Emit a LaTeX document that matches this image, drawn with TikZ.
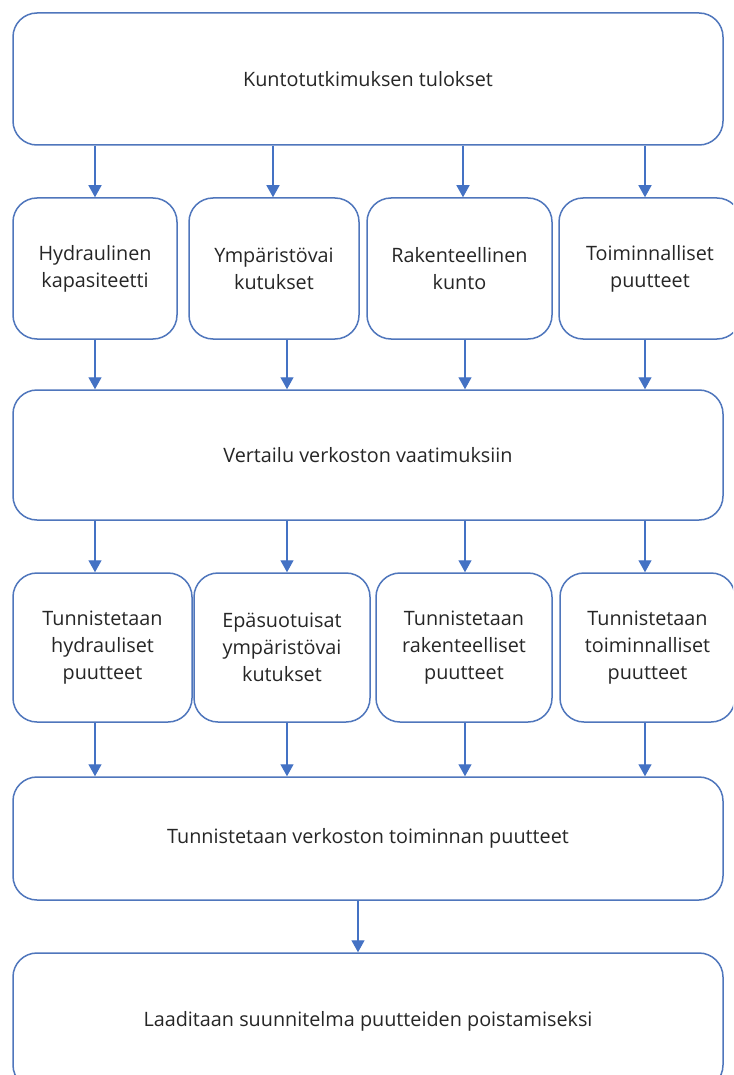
\documentclass[tikz,border=0pt]{standalone}
\usepackage{fontspec}
\setmainfont{Open Sans}
\usetikzlibrary{arrows.meta,calc}
\definecolor{boxblue}{HTML}{4F76BC}
\definecolor{arrblue}{HTML}{4472C4}
\definecolor{txt}{HTML}{262626}
\tikzset{
  box/.style={draw=boxblue, line width=1.5pt, rounded corners=24pt, fill=white,
    inner sep=0pt, align=center, text=txt,
    font=\fontsize{19.8pt}{27pt}\selectfont},
  arr/.style={draw=arrblue, line width=1.4pt, -{Triangle[length=12pt,width=13pt]}},
}
\begin{document}
\begin{tikzpicture}[x=1pt,y=-1pt]
\useasboundingbox (0,0) rectangle (733,1075);
\clip (0,0) rectangle (733,1075);
\fill[white] (0,0) rectangle (733,1075);
% columns for arrows
\coordinate (a1) at (95,0);
\coordinate (a2) at (273,0);
\coordinate (a3) at (463,0);
\coordinate (a4) at (645,0);
\coordinate (b1) at (95,0);
\coordinate (b2) at (287,0);
\coordinate (b3) at (465,0);
\coordinate (b4) at (645,0);
\coordinate (c0) at (358,0);
% boxes
\node[box, minimum width=710pt, minimum height=132pt] (top) at (368,79) {Kuntotutkimuksen tulokset};
\node[box, minimum width=164pt, minimum height=141pt] (h1) at (95,268.5) {Hydraulinen\\kapasiteetti};
\node[box, minimum width=170pt, minimum height=141pt] (h2) at (274,268.5) {Ympäristövai\\kutukset};
\node[box, minimum width=185pt, minimum height=141pt] (h3) at (459.5,268.5) {Rakenteellinen\\kunto};
\node[box, minimum width=182pt, minimum height=141pt] (h4) at (650,268.5) {Toiminnalliset\\puutteet};
\node[box, minimum width=710pt, minimum height=130pt] (vert) at (368,455) {Vertailu verkoston vaatimuksiin};
\node[box, minimum width=179pt, minimum height=149pt] (t1) at (102.5,647.5) {Tunnistetaan\\hydrauliset\\puutteet};
\node[box, minimum width=176pt, minimum height=149pt] (t2) at (282,647.5) {Epäsuotuisat\\ympäristövai\\kutukset};
\node[box, minimum width=176pt, minimum height=149pt] (t3) at (464,647.5) {Tunnistetaan\\rakenteelliset\\puutteet};
\node[box, minimum width=175pt, minimum height=149pt] (t4) at (647.5,647.5) {Tunnistetaan\\toiminnalliset\\puutteet};
\node[box, minimum width=710pt, minimum height=123pt] (ver) at (368,838.5) {Tunnistetaan verkoston toiminnan puutteet};
\node[box, minimum width=710pt, minimum height=136pt] (plan) at (368,1021) {Laaditaan suunnitelma puutteiden poistamiseksi};
% arrows
\foreach \i in {1,...,4}{
  \draw[arr] (top.south -| a\i) -- (h\i.north -| a\i);
  \draw[arr] (h\i.south -| b\i) -- (vert.north -| b\i);
  \draw[arr] (vert.south -| b\i) -- (t\i.north -| b\i);
  \draw[arr] (t\i.south -| b\i) -- (ver.north -| b\i);
}
\draw[arr] (ver.south -| c0) -- (plan.north -| c0);
\end{tikzpicture}
\end{document}
